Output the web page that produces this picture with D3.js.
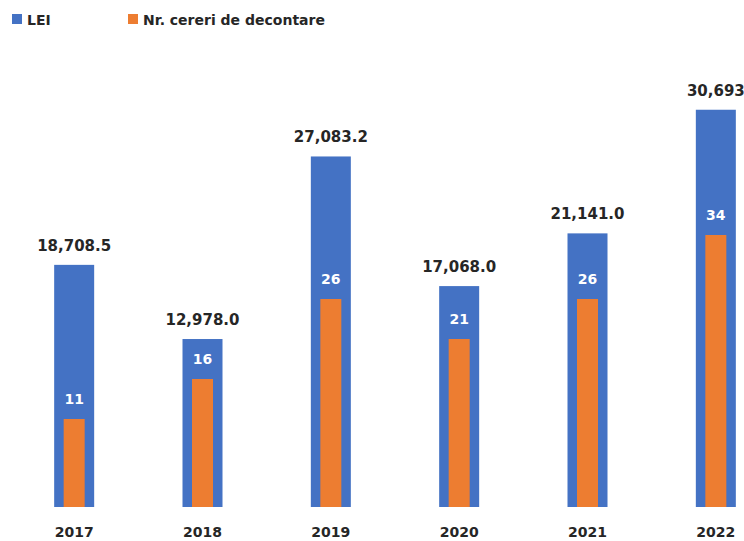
<!DOCTYPE html>
<html>
<head>
<meta charset="utf-8">
<script src="https://cdn.jsdelivr.net/npm/d3@7"></script>
<style>
  body { margin: 0; background: #fff; }
  text { font-family: "DejaVu Sans", Verdana, sans-serif; }
</style>
</head>
<body>
<div id="chart"></div>
<script>
var years = ["2017", "2018", "2019", "2020", "2021", "2022"];
var lei = [18708.5, 12978.0, 27083.2, 17068.0, 21141.0, 30693];
var leiLabels = ["18,708.5", "12,978.0", "27,083.2", "17,068.0", "21,141.0", "30,693"];
var cereri = [11, 16, 26, 21, 26, 34];

var width = 744, height = 541;
var baseY = 507;

var svg = d3.select("#chart")
  .append("svg")
    .attr("width", width)
    .attr("height", height);

var x = d3.scaleBand()
  .domain(years)
  .range([10, 780])
  .padding(0);

var yLei = d3.scaleLinear()
  .domain([0, 35000])
  .range([baseY, baseY - 453]);

var yNr = d3.scaleLinear()
  .domain([0, 40])
  .range([baseY, baseY - 320]);

var blueW = 40, orangeW = 21;

// blue bars (LEI)
svg.append("g").selectAll("rect")
  .data(years)
  .enter().append("rect")
    .attr("x", function(d) { return x(d) + x.bandwidth() / 2 - blueW / 2; })
    .attr("y", function(d, i) { return yLei(lei[i]); })
    .attr("width", blueW)
    .attr("height", function(d, i) { return baseY - yLei(lei[i]); })
    .attr("fill", "#4472c4");

// orange bars (Nr. cereri)
svg.append("g").selectAll("rect")
  .data(years)
  .enter().append("rect")
    .attr("x", function(d) { return x(d) + x.bandwidth() / 2 - orangeW / 2; })
    .attr("y", function(d, i) { return yNr(cereri[i]); })
    .attr("width", orangeW)
    .attr("height", function(d, i) { return baseY - yNr(cereri[i]); })
    .attr("fill", "#ed7d31");

// LEI value labels
svg.append("g").selectAll("text")
  .data(years)
  .enter().append("text")
    .attr("x", function(d) { return x(d) + x.bandwidth() / 2; })
    .attr("y", function(d, i) { return yLei(lei[i]) - 14; })
    .attr("text-anchor", "middle")
    .style("font-size", "15px")
    .style("font-weight", "bold")
    .style("fill", "#262626")
    .text(function(d, i) { return leiLabels[i]; });

// count labels
svg.append("g").selectAll("text")
  .data(years)
  .enter().append("text")
    .attr("x", function(d) { return x(d) + x.bandwidth() / 2; })
    .attr("y", function(d, i) { return yNr(cereri[i]) - 15; })
    .attr("text-anchor", "middle")
    .style("font-size", "14px")
    .style("font-weight", "bold")
    .style("fill", "#ffffff")
    .text(function(d, i) { return cereri[i]; });

// x axis
var xAxis = svg.append("g")
  .attr("transform", "translate(0," + baseY + ")")
  .call(d3.axisBottom(x).tickSize(0).tickPadding(20));
xAxis.select(".domain").remove();
xAxis.selectAll("text")
  .style("font-family", "'DejaVu Sans', sans-serif")
  .style("font-size", "14px")
  .style("font-weight", "bold")
  .style("fill", "#262626");

// legend
var legend = [["LEI", "#4472c4", 12], ["Nr. cereri de decontare", "#ed7d31", 128]];
legend.forEach(function(l) {
  svg.append("rect")
    .attr("x", l[2]).attr("y", 14)
    .attr("width", 10).attr("height", 10)
    .attr("fill", l[1]);
  svg.append("text")
    .attr("x", l[2] + 15).attr("y", 25)
    .style("font-size", "14px")
    .style("font-weight", "bold")
    .style("fill", "#262626")
    .text(l[0]);
});
</script>
</body>
</html>
